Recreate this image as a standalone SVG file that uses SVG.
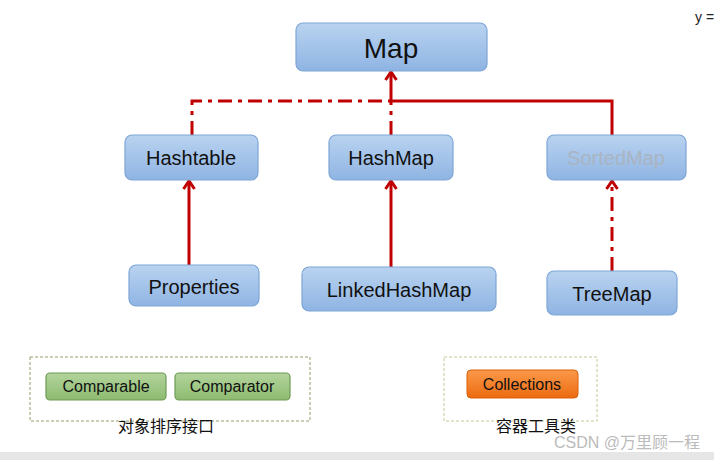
<svg xmlns="http://www.w3.org/2000/svg" width="714" height="460" viewBox="0 0 714 460">
<defs>
<linearGradient id="bl" x1="0" y1="0" x2="0" y2="1"><stop offset="0" stop-color="#b9d3f0"/><stop offset="1" stop-color="#8fb4e3"/></linearGradient>
<linearGradient id="gr" x1="0" y1="0" x2="0" y2="1"><stop offset="0" stop-color="#b3d49c"/><stop offset="1" stop-color="#8dbb70"/></linearGradient>
<linearGradient id="or" x1="0" y1="0" x2="0" y2="1"><stop offset="0" stop-color="#fb9a4a"/><stop offset="1" stop-color="#ec6a10"/></linearGradient>
<marker id="ar" markerWidth="14" markerHeight="14" refX="11" refY="7" orient="auto" markerUnits="userSpaceOnUse" viewBox="0 0 14 14"><path d="M3,1.5 L11,7 L3,12.5" fill="none" stroke="#c00000" stroke-width="3"/></marker>
<style>
.n{stroke:#7ea6d6;stroke-width:1.2;fill:url(#bl)}
.g{stroke:#6f9a55;stroke-width:1.2;fill:url(#gr)}
.t{font-family:"Liberation Sans",Arial,sans-serif;fill:#111;text-anchor:middle}
.c{font-family:"Liberation Sans","Noto Sans CJK SC",sans-serif;font-size:16px;fill:#111;text-anchor:middle}
.l{fill:none;stroke:#c00000;stroke-width:3}
.d{stroke-dasharray:14,6,4,6}
.box{fill:none;stroke:#9a9a6a;stroke-width:1;stroke-dasharray:3,2}
</style>
</defs>
<rect width="714" height="460" fill="#fff"/>
<rect x="0" y="452" width="714" height="8" fill="#e6e6e6"/>
<text x="695" y="22" font-family="Liberation Sans,sans-serif" font-size="14" fill="#222">y =</text>
<g id="connectors">
<path class="l d" d="M192,135 V101 H391"/>
<path class="l d" d="M391,135 V101"/>
<path class="l" d="M612,135 V101 H391 V72" marker-end="url(#ar)"/>
<path class="l" d="M189,265 V181" marker-end="url(#ar)"/>
<path class="l" d="M391,267 V181" marker-end="url(#ar)"/>
<path class="l d" d="M612,271 V181" marker-end="url(#ar)"/>
</g>
<g id="Map"><rect class="n" x="296" y="23" width="191" height="48" rx="7"/><text class="t" x="391" y="58" font-size="28">Map</text></g>
<g id="Hashtable"><rect class="n" x="125" y="135" width="133" height="45" rx="7"/><text class="t" x="191" y="165" font-size="20">Hashtable</text></g>
<g id="HashMap"><rect class="n" x="329" y="135" width="124" height="45" rx="7"/><text class="t" x="391" y="165" font-size="20">HashMap</text></g>
<g id="SortedMap"><rect class="n" x="547" y="135" width="139" height="45" rx="7"/><text class="t" x="616" y="165" font-size="20" style="fill:#a9b4c2">SortedMap</text></g>
<g id="Properties"><rect class="n" x="129" y="265" width="130" height="41" rx="7"/><text class="t" x="194" y="294" font-size="20">Properties</text></g>
<g id="LinkedHashMap"><rect class="n" x="302" y="267" width="194" height="44" rx="7"/><text class="t" x="399" y="297" font-size="20">LinkedHashMap</text></g>
<g id="TreeMap"><rect class="n" x="547" y="271" width="130" height="44" rx="7"/><text class="t" x="612" y="301" font-size="20">TreeMap</text></g>
<g id="sortGroup">
<rect class="box" x="30" y="357" width="280" height="64"/>
<rect class="g" x="46" y="373" width="120" height="27" rx="4"/><text class="t" x="106" y="392" font-size="16">Comparable</text>
<rect class="g" x="175" y="373" width="115" height="27" rx="4"/><text class="t" x="232" y="392" font-size="16">Comparator</text>
<text class="c" x="166" y="432">对象排序接口</text>
</g>
<g id="toolGroup">
<rect class="box" x="444" y="357" width="153" height="64" style="stroke:#c8c89a"/>
<rect x="467" y="370" width="111" height="28" rx="4" fill="url(#or)" stroke="#d8600c"/><text class="t" x="522" y="390" font-size="16">Collections</text>
<text class="c" x="536" y="432">容器工具类</text>
</g>
<text x="700" y="448" font-family="Liberation Sans,'Noto Sans CJK SC',sans-serif" font-size="16" fill="#bbb" text-anchor="end">CSDN @万里顾一程</text>
</svg>
